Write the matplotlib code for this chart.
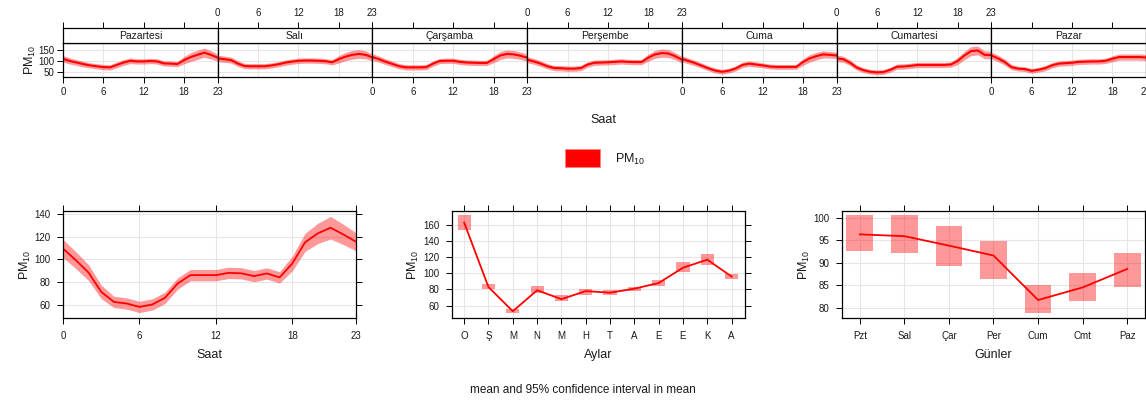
import matplotlib
matplotlib.use("Agg")
import matplotlib.pyplot as plt
from matplotlib.patches import Rectangle
import numpy as np

plt.rcParams['font.family'] = ['Liberation Sans', 'DejaVu Sans']
plt.rcParams['mathtext.fontset'] = 'custom'
plt.rcParams['mathtext.rm'] = 'Liberation Sans'
plt.rcParams['mathtext.default'] = 'regular'

# ---------------- data ----------------
hours = list(range(24))
day_names = ['Pazartesi', 'Salı', 'Çarşamba', 'Perşembe', 'Cuma', 'Cumartesi', 'Pazar']

mon = [110, 100, 93, 86, 80, 76, 72, 71, 82, 93, 101, 98, 98, 100, 98, 89, 88, 86, 104, 118, 128, 138, 128, 115]
tue = [112, 108, 104, 88, 77, 76, 76, 76, 80, 85, 92, 97, 101, 102, 102, 101, 99, 94, 108, 120, 128, 132, 128, 116]
wed = [118, 108, 96, 86, 76, 71, 71, 71, 72, 88, 100, 101, 101, 96, 93, 92, 91, 91, 108, 125, 132, 130, 124, 115]
thu = [106, 98, 88, 76, 68, 67, 65, 65, 68, 84, 92, 93, 94, 96, 98, 96, 95, 95, 115, 130, 136, 134, 122, 106]
fri = [110, 100, 90, 78, 66, 56, 51, 56, 66, 82, 88, 84, 80, 75, 73, 73, 73, 73, 95, 112, 122, 130, 128, 125]
sat = [112, 108, 92, 70, 58, 51, 48, 50, 60, 74, 75, 78, 82, 82, 82, 82, 82, 84, 100, 125, 145, 148, 128, 127]
sun = [125, 112, 95, 72, 65, 63, 55, 60, 67, 80, 88, 90, 92, 96, 97, 98, 98, 101, 110, 118, 118, 118, 118, 116]
week_hour = [mon, tue, wed, thu, fri, sat, sun]

# half width of 95% CI in the weekday-hour panel
ci_mon = [15, 14, 13, 13, 12, 12, 12, 12, 13, 13, 13, 12, 12, 12, 12, 12, 12, 12, 17, 20, 21, 21, 19, 16]
ci_tue = [15, 14, 14, 13, 12, 12, 12, 12, 12, 12, 12, 12, 12, 12, 12, 12, 12, 12, 17, 19, 20, 20, 18, 16]
ci_wed = [15, 14, 13, 13, 12, 12, 12, 12, 12, 12, 12, 12, 12, 12, 12, 12, 12, 12, 16, 18, 18, 18, 17, 16]
ci_thu = [14, 13, 13, 12, 12, 12, 12, 12, 12, 12, 12, 12, 12, 12, 12, 12, 12, 12, 16, 18, 19, 18, 16, 15]
ci_fri = [14, 13, 12, 12, 11, 11, 11, 11, 11, 12, 12, 12, 11, 11, 11, 11, 11, 11, 15, 17, 17, 16, 15, 15]
ci_sat = [15, 14, 13, 12, 11, 11, 11, 11, 11, 12, 12, 12, 12, 12, 12, 12, 12, 12, 16, 19, 21, 20, 18, 17]
ci_sun = [16, 15, 14, 12, 11, 11, 11, 11, 12, 12, 12, 12, 12, 12, 12, 12, 12, 12, 14, 14, 14, 14, 14, 14]
week_hour_ci = [ci_mon, ci_tue, ci_wed, ci_thu, ci_fri, ci_sat, ci_sun]

hour_mean = [109.5, 99.3, 88.3, 71.2, 62.3, 60.9, 57.9, 60.0, 65.9, 78.6, 86.0, 86.0,
             86.0, 88.0, 87.6, 85.1, 87.5, 84.0, 96.3, 115.0, 122.9, 127.9, 122.0, 115.5]
hour_ci = [8, 7.5, 7, 6, 5, 5, 5, 5, 5, 5, 5, 5, 5, 5, 5, 5, 5, 5, 6.5, 8, 9, 10, 9, 8]

month_labels = ['O', 'Ş', 'M', 'N', 'M', 'H', 'T', 'A', 'E', 'E', 'K', 'A']
month_mean = [163, 83, 53, 79, 68, 78, 76, 81, 88, 107, 117, 96]
month_low = [153.4, 80.3, 51.3, 76.2, 66.2, 73.7, 73.2, 77.8, 84.4, 101.8, 111.0, 92.4]
month_high = [172.5, 87.4, 56.3, 84.0, 72.8, 80.3, 79.0, 83.0, 91.5, 114.0, 123.5, 99.4]

wday_labels = ['Pzt', 'Sal', 'Çar', 'Per', 'Cum', 'Cmt', 'Paz']
wday_mean = [96.3, 95.9, 93.8, 91.6, 81.7, 84.5, 88.6]
wday_low = [92.6, 92.2, 89.3, 86.4, 78.9, 81.5, 84.6]
wday_high = [100.6, 100.6, 98.1, 94.9, 85.0, 87.8, 92.1]

# ---------------- style ----------------
W, H = 1146, 403
fig = plt.figure(figsize=(W / 100, H / 100), dpi=100)
RED = '#FF0000'
FILL = '#FF0000'
FILL_A = 0.4
GRID = '#E6E6E6'
TXT = '#1a1a1a'
PM = r'PM$_{10}$'


def ax_px(l, t, r, b):
    return fig.add_axes([l / W, 1 - b / H, (r - l) / W, (b - t) / H])


def style_ax(ax):
    for s in ax.spines.values():
        s.set_color('black')
        s.set_linewidth(0.9)
    ax.tick_params(direction='out', length=4.3, width=0.7, colors='black',
                   labelcolor=TXT, labelsize=7)


# ---------------- top weekday-hour panels ----------------
pw = (1146 - 63) / 7.0
for i in range(7):
    l = 63 + i * pw
    r = l + pw
    ax = ax_px(l, 43, r, 77)
    st = ax_px(l, 28, r, 43)
    m = np.array(week_hour[i])
    c = np.array(week_hour_ci[i])
    ax.fill_between(hours, m - c, m + c, color=FILL, alpha=FILL_A, lw=0)
    ax.plot(hours, m, color=RED, lw=1.5)
    ax.set_xlim(0, 23)
    ax.set_ylim(27, 182)
    for gx in [6, 12, 18]:
        ax.axvline(gx, color=GRID, lw=0.8, zorder=0)
    for gy in [50, 100, 150]:
        ax.axhline(gy, color=GRID, lw=0.8, zorder=0)
    style_ax(ax)
    style_ax(st)
    ax.set_xticks([0, 6, 12, 18, 23])
    if i % 2 == 0:
        ax.tick_params(axis='x', bottom=True, labelbottom=True, pad=3)
    else:
        ax.tick_params(axis='x', bottom=False, labelbottom=False)
    if i == 0:
        ax.set_yticks([50, 100, 150])
        ax.tick_params(axis='y', left=True, labelleft=True, pad=2)
        ax.set_ylabel(PM, fontsize=9, color=TXT, labelpad=0)
    else:
        ax.tick_params(axis='y', left=False, labelleft=False)
        ax.set_yticks([])
    # strip
    st.set_xlim(0, 23)
    st.set_ylim(0, 1)
    st.set_yticks([])
    st.set_xticks([0, 6, 12, 18, 23])
    st.tick_params(axis='x', bottom=False, labelbottom=False, top=True,
                   labeltop=(i % 2 == 1), pad=3)
    st.text(11.5, 0.48, day_names[i], ha='center', va='center', fontsize=7.5, color=TXT)

fig.text(603 / W, 1 - 120 / H, 'Saat', ha='center', va='center', fontsize=9, color=TXT)

# legend
fig.add_artist(Rectangle((565 / W, 1 - 167 / H), 35 / W, 18 / H,
                         transform=fig.transFigure, facecolor=RED, edgecolor='#FF8080', lw=0.6))
fig.text(615 / W, 1 - 159 / H, PM, ha='left', va='center', fontsize=9, color=TXT)

# ---------------- bottom-left: hour ----------------
ax1 = ax_px(63, 211, 356, 318)
hm = np.array(hour_mean)
hc = np.array(hour_ci)
ax1.fill_between(hours, hm - hc, hm + hc, color=FILL, alpha=FILL_A, lw=0)
ax1.plot(hours, hm, color=RED, lw=1.3)
ax1.set_xlim(0, 23)
ax1.set_ylim(48.1, 142.7)
ax1.set_xticks([0, 6, 12, 18, 23])
ax1.set_yticks([60, 80, 100, 120, 140])
for gx in [6, 12, 18]:
    ax1.axvline(gx, color=GRID, lw=0.8, zorder=0)
for gy in [60, 80, 100, 120, 140]:
    ax1.axhline(gy, color=GRID, lw=0.8, zorder=0)
style_ax(ax1)
ax1.tick_params(top=True, right=True, pad=5)
ax1.set_xlabel('Saat', fontsize=9, color=TXT, labelpad=6)
ax1.set_ylabel(PM, fontsize=9, color=TXT, labelpad=1)

# ---------------- bottom-middle: month ----------------
ax2 = ax_px(452, 211, 745, 318)
xm = np.arange(1, 13)
for x, lo, hi in zip(xm, month_low, month_high):
    ax2.add_patch(Rectangle((x - 0.27, lo), 0.54, hi - lo, facecolor=FILL,
                            alpha=FILL_A, lw=0))
ax2.plot(xm, month_mean, color=RED, lw=1.3)
ax2.set_xlim(0.5, 12.55)
ax2.set_ylim(44.6, 177.4)
ax2.set_xticks(xm)
ax2.set_xticklabels(month_labels)
ax2.set_yticks([60, 80, 100, 120, 140, 160])
for gx in xm:
    ax2.axvline(gx, color=GRID, lw=0.8, zorder=0)
for gy in [60, 80, 100, 120, 140, 160]:
    ax2.axhline(gy, color=GRID, lw=0.8, zorder=0)
style_ax(ax2)
ax2.tick_params(top=True, right=True, pad=5)
ax2.set_xlabel('Aylar', fontsize=9, color=TXT, labelpad=6)
ax2.set_ylabel(PM, fontsize=9, color=TXT, labelpad=1)

# ---------------- bottom-right: weekday ----------------
ax3 = ax_px(842, 211, 1145, 318)
xd = np.arange(1, 8)
for x, lo, hi in zip(xd, wday_low, wday_high):
    ax3.add_patch(Rectangle((x - 0.3, lo), 0.6, hi - lo, facecolor=FILL,
                            alpha=FILL_A, lw=0))
ax3.plot(xd, wday_mean, color=RED, lw=1.3)
ax3.set_xlim(0.6, 7.4)
ax3.set_ylim(77.7, 101.5)
ax3.set_xticks(xd)
ax3.set_xticklabels(wday_labels)
ax3.set_yticks([80, 85, 90, 95, 100])
for gx in xd:
    ax3.axvline(gx, color=GRID, lw=0.8, zorder=0)
for gy in [80, 85, 90, 95, 100]:
    ax3.axhline(gy, color=GRID, lw=0.8, zorder=0)
style_ax(ax3)
ax3.tick_params(top=True, right=True, pad=5)
ax3.set_xlabel('Günler', fontsize=9, color=TXT, labelpad=6)
ax3.set_ylabel(PM, fontsize=9, color=TXT, labelpad=1)

fig.text(583 / W, 1 - 390 / H, 'mean and 95% confidence interval in mean',
         ha='center', va='center', fontsize=8.5, color=TXT)

fig.savefig('out.png', dpi=100)
